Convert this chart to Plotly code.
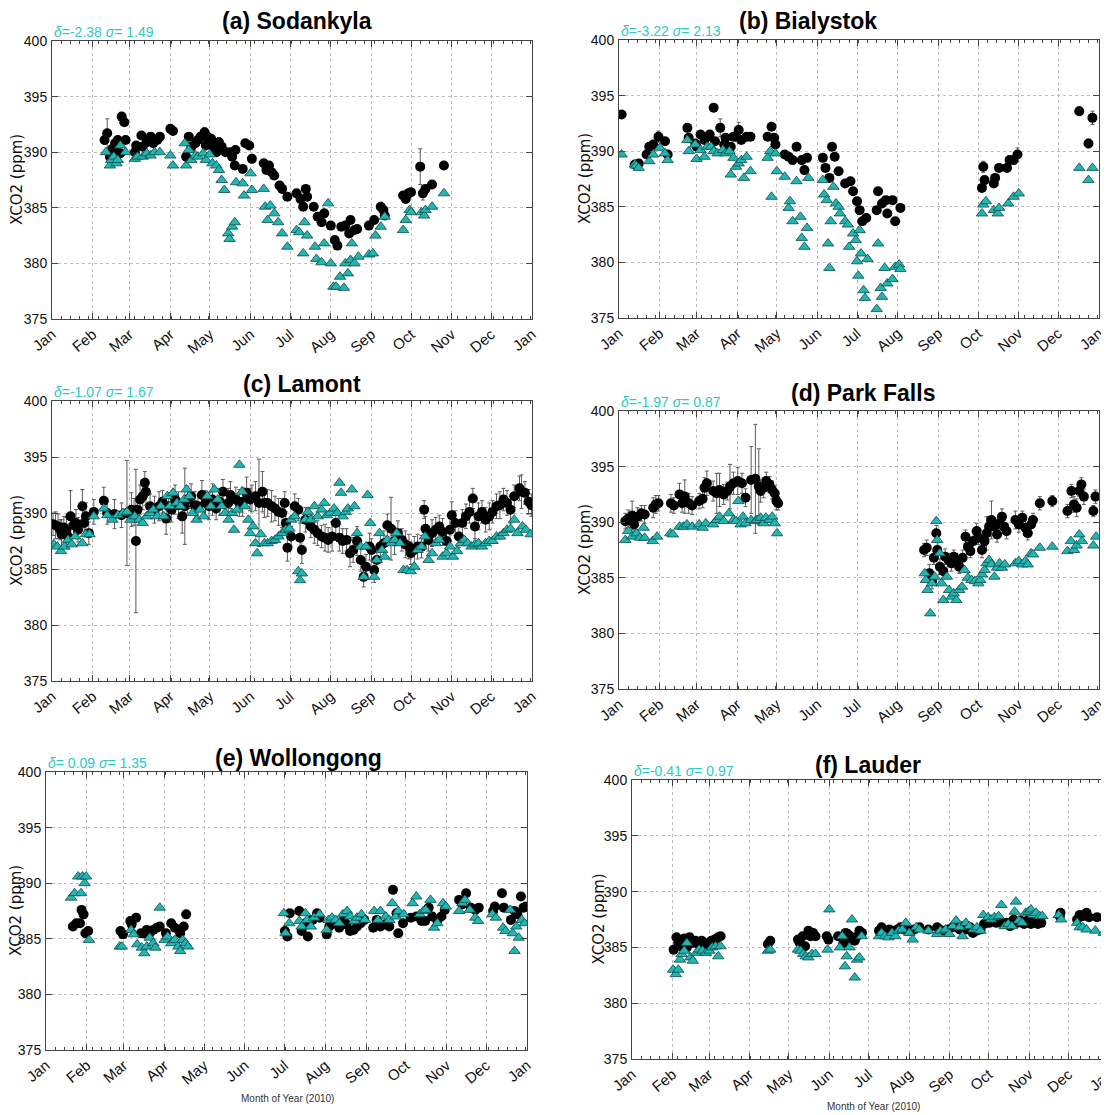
import pandas as pd
import plotly.graph_objects as go

# ---------------- DATA (day of year 2010, XCO2 ppm) ----------------
month_ticks = ["2010-01-01", "2010-02-01", "2010-03-01", "2010-04-01", "2010-05-01", "2010-06-01",
               "2010-07-01", "2010-08-01", "2010-09-01", "2010-10-01", "2010-11-01", "2010-12-01", "2011-01-01"]
month_labels = ["Jan", "Feb", "Mar", "Apr", "May", "Jun", "Jul", "Aug", "Sep", "Oct", "Nov", "Dec", "Jan"]
y_ticks = [375, 380, 385, 390, 395, 400]

# (a) Sodankyla
a_obs_day = [40, 42, 44, 46, 48, 49, 50, 52, 53, 55, 56, 63, 64, 68, 69, 72, 75, 77, 80, 82,
             90, 92, 102, 104, 106, 109, 111, 113, 116, 117, 118, 121, 123, 125, 127, 129, 132, 135, 137, 139,
             139.5, 145, 147, 150, 152, 161, 163, 165, 167, 169, 173, 175, 179, 186, 189, 191, 193, 194, 199, 202,
             205, 207, 212, 215, 217, 220, 223, 226, 227, 230, 232, 241, 245, 250, 252, 253, 267, 269, 271, 273,
             280, 282, 284, 289, 298]
a_obs_val = [391.1, 391.7, 389.6, 390.3, 390.8, 390.0, 391.1, 389.9, 393.2, 392.7, 391.1, 390.0, 390.6, 391.5, 390.5, 390.9, 391.4, 390.8, 391.1, 391.4,
             392.1, 391.9, 389.6, 391.4, 390.5, 390.8, 391.1, 391.4, 391.8, 390.6, 391.4, 391.2, 390.5, 390.0, 390.9, 390.5, 390.0, 390.0, 389.6, 388.8,
             390.2, 388.5, 390.8, 390.6, 389.4, 389.0, 388.4, 388.8, 388.2, 387.9, 387.0, 386.7, 386.0, 386.3, 385.8, 385.1, 386.7, 386.0, 385.1, 384.2,
             383.7, 384.5, 383.4, 382.1, 381.6, 383.3, 383.4, 382.7, 383.9, 383.0, 383.1, 383.4, 383.9, 385.1, 384.8, 384.3, 386.1, 385.8, 386.3, 386.4,
             388.7, 386.3, 386.7, 387.1, 388.8]
a_obs_err = [0.4, 1.3, 0.3, 0.3, 0.3, 0.3, 0.3, 0.3, 0.3, 0.3, 0.3, 0.3, 0.3, 0.3, 0.3, 0.3, 0.3, 0.3, 0.3, 0.3,
             0.3, 0.3, 0.3, 0.3, 0.3, 0.3, 0.3, 0.3, 0.4, 0.3, 0.3, 0.3, 0.3, 0.3, 0.4, 0.3, 0.3, 0.3, 0.3, 0.3,
             0.3, 0.3, 0.3, 0.3, 0.3, 0.3, 0.3, 0.3, 0.6, 0.3, 0.3, 0.3, 0.3, 0.3, 0.3, 0.3, 0.3, 0.3, 0.3, 0.3,
             0.3, 0.3, 0.3, 0.3, 0.3, 0.3, 0.3, 0.3, 0.3, 0.3, 0.3, 0.3, 0.3, 0.4, 0.3, 0.3, 0.3, 0.3, 0.3, 0.3,
             1.6, 0.6, 0.3, 0.3, 0.3]
a_mod_day = [41, 44, 45, 47, 49, 50, 52, 56, 63, 65, 69, 72, 75, 78, 82, 90, 92, 101, 102, 104,
             106, 109, 111, 115, 117, 120, 122, 125, 127, 129, 131, 134, 135, 137, 139, 140, 145, 146, 151, 152,
             161, 162, 164, 166, 169, 172, 175, 179, 186, 188, 191, 192, 194, 200, 201, 205, 207, 210, 212, 214,
             216, 219, 222, 223, 225, 227, 228, 230, 233, 241, 244, 246, 250, 253, 267, 269, 272, 273, 281, 283,
             284, 289, 298]
a_mod_val = [390.0, 388.8, 389.3, 389.6, 389.0, 389.3, 390.6, 390.0, 389.4, 389.6, 389.6, 389.9, 389.7, 390.0, 390.0, 389.7, 388.8, 390.8, 388.8, 390.2,
             389.3, 389.7, 389.6, 389.9, 389.3, 389.8, 389.0, 388.8, 388.4, 387.5, 386.6, 382.7, 382.2, 383.3, 383.7, 387.3, 387.2, 386.1, 388.1, 386.6,
             386.7, 385.1, 383.9, 385.2, 384.5, 383.7, 382.7, 381.5, 383.0, 382.8, 380.9, 383.7, 382.5, 381.5, 380.4, 380.1, 381.8, 385.4, 380.0, 377.9,
             377.9, 378.8, 377.8, 380.0, 379.1, 380.3, 381.8, 380.0, 380.6, 380.8, 380.9, 382.5, 383.3, 384.2, 383.0, 383.9, 384.8, 384.6, 384.6, 384.3,
             384.8, 385.1, 386.3]

# (b) Bialystok
b_obs_day = [2, 12, 15, 21, 23, 26, 30, 35, 37, 52, 53, 58, 59, 62, 65, 67, 69, 72, 73, 77,
             80, 81, 85, 87, 89, 91, 93, 97, 100, 113, 116, 118, 119, 126, 129, 132, 135, 139, 141, 143,
             155, 157, 160, 162, 164, 167, 172, 176, 178, 181, 183, 185, 188, 196, 197, 200, 203, 204, 208, 210,
             214, 276, 277, 278, 285, 286, 289, 295, 297, 300, 303, 350, 357, 360]
b_obs_val = [393.3, 388.8, 388.9, 389.7, 390.4, 390.6, 391.3, 390.9, 389.7, 392.1, 391.2, 390.7, 390.4, 391.5, 391.0, 391.3, 391.5, 393.9, 390.9, 392.1,
             390.6, 391.2, 390.4, 391.3, 391.3, 391.9, 391.0, 391.3, 391.3, 391.3, 392.2, 391.2, 390.6, 389.7, 389.5, 389.2, 390.4, 389.2, 388.3, 389.4,
             389.4, 388.5, 387.6, 390.4, 389.5, 388.2, 387.1, 387.3, 386.4, 385.5, 384.7, 383.7, 384.0, 384.7, 386.4, 385.3, 385.6, 384.4, 385.6, 383.7,
             384.9, 386.7, 388.6, 387.4, 387.1, 387.6, 388.5, 388.5, 389.2, 389.2, 389.7, 393.6, 390.7, 393.0]
b_obs_err = [0.3, 0.3, 0.3, 0.3, 0.3, 0.3, 0.5, 0.3, 0.3, 0.3, 0.3, 0.3, 0.3, 0.3, 0.3, 0.3, 0.3, 0.3, 0.3, 0.8,
             0.3, 0.3, 0.3, 0.3, 0.3, 0.7, 0.3, 0.3, 0.3, 0.3, 0.3, 0.3, 0.3, 0.3, 0.3, 0.3, 0.3, 0.3, 0.3, 0.3,
             0.3, 0.3, 0.3, 0.3, 0.3, 0.3, 0.3, 0.3, 0.3, 0.3, 0.3, 0.3, 0.3, 0.3, 0.3, 0.3, 0.3, 0.3, 0.3, 0.3,
             0.3, 0.3, 0.5, 0.3, 0.3, 0.3, 0.3, 0.3, 0.3, 0.3, 0.6, 0.4, 0.4, 0.6]
b_mod_day = [2, 12, 13, 15, 23, 26, 31, 35, 37, 52, 53, 58, 59, 62, 65, 67, 70, 72, 75, 79,
             81, 84, 85, 87, 89, 91, 93, 95, 97, 100, 113, 115, 116, 119, 120, 126, 129, 130, 132, 135,
             138, 139, 141, 143, 144, 155, 156, 158, 159, 160, 161, 163, 165, 167, 168, 172, 174, 175, 178, 180,
             181, 182, 183, 184, 186, 187, 189, 196, 197, 199, 200, 202, 204, 208, 210, 213, 214, 276, 277, 279,
             285, 288, 289, 296, 300, 304, 350, 357, 360]
b_mod_val = [389.7, 388.8, 388.7, 388.5, 389.1, 389.7, 390.3, 389.8, 389.2, 391.0, 390.0, 390.6, 389.3, 390.1, 389.5, 390.4, 390.4, 390.0, 389.8, 390.1,
             389.8, 390.0, 387.9, 389.4, 388.6, 388.9, 389.2, 387.6, 389.5, 388.2, 389.4, 390.0, 385.9, 389.8, 388.2, 387.7, 384.9, 385.5, 383.7, 387.3,
             384.1, 382.2, 381.4, 383.1, 387.6, 387.4, 386.1, 385.6, 381.7, 379.5, 383.7, 386.8, 385.3, 385.0, 384.4, 383.7, 383.4, 381.4, 382.6, 382.0,
             380.1, 378.8, 382.9, 380.8, 377.5, 376.8, 380.3, 375.8, 381.7, 377.7, 376.9, 379.5, 378.1, 378.5, 379.6, 379.8, 379.4, 384.4, 385.2, 385.5,
             384.7, 384.4, 384.9, 385.3, 385.9, 386.2, 388.5, 387.4, 388.5]

# (c) Lamont
c_obs_day = [0.8, 2.7, 4.6, 6.2, 7.3, 9, 10.9, 12.2, 14.1, 16.3, 18.2, 19.8, 23.1, 24.4, 25.8, 28, 31.8,
             39.4, 42, 47.5, 52.9, 57, 60.5, 62.4, 63.8, 65, 67, 69, 70.6, 71.4,
             74.6, 77.9, 81.4, 84, 86.8, 88.7, 90.9, 93.6, 96.3, 99, 101, 103, 105.8,
             108.6, 111, 114, 116.7, 119.4, 122, 124.8, 127.6, 130, 134, 135.7,
             139.8, 142.5, 145, 148, 150.6, 152, 154.7, 157.4, 160, 161.5, 164, 167, 169.6, 172.3, 175, 177,
             177.8, 179, 181.8, 184.6, 187.3, 188.6, 190, 192.7, 196.8, 199.5, 202, 205, 207.6, 210, 213, 215.8, 218.5, 221, 224, 226.6,
             229, 232, 234.8, 237, 238.8, 241.5, 243, 245, 247, 249.7, 252.4, 255, 257.8, 260.5, 263, 266, 268.7, 271.4, 272.8, 275.5,
             278, 281, 283, 284, 286.3, 289, 291.8, 294.5, 297, 300, 302.6, 304, 306.7, 309.4, 312, 314.8, 317.5, 320, 321.6, 324.3,
             327, 329.7, 332.5, 335, 338, 340.6, 343.3, 346, 348.7, 351.5, 355.5, 357, 359.6, 362.4, 364.5]
c_obs_val = [389.0, 388.9, 388.8, 388.5, 388.1, 388.7, 388.4, 387.9, 389.7, 388.9, 389.1, 388.5, 390.6, 389.1, 389.7, 388.2, 390.1,
             391.1, 390.0, 389.9, 389.8, 390.0, 390.3, 390.1, 387.5, 390.3, 391.2, 391.5, 392.7, 391.9,
             390.6, 390.3, 390.6, 391.0, 389.5, 390.6, 390.3, 391.2, 390.7, 389.7, 390.6, 391.2, 391.5,
             390.7, 390.6, 391.6, 390.9, 390.6, 391.2, 390.4, 391.0, 391.9, 390.9, 391.6,
             391.2, 390.9, 391.0, 391.8, 391.2, 391.3, 391.5, 390.9, 391.9, 390.9, 390.9, 390.6, 390.4, 390.1, 390.0, 390.9,
             389.1, 386.9, 387.9, 390.6, 390.3, 387.8, 386.7, 389.4, 388.8, 388.5, 388.2, 387.9, 387.8, 387.6, 387.9, 389.1, 387.8, 387.5, 387.6, 386.4,
             386.7, 387.5, 385.8, 384.3, 385.2, 387.0, 386.7, 384.9, 385.8, 387.0, 387.3, 388.9, 388.6, 387.5, 388.2, 387.6, 387.2, 387.0, 386.4, 386.7,
             387.0, 387.0, 390.3, 388.6, 387.6, 388.2, 388.5, 388.8, 388.3, 387.5, 388.5, 389.8, 389.1, 387.9, 389.1, 389.7, 390.1, 391.3, 388.8, 389.7,
             390.1, 389.4, 389.7, 390.1, 390.6, 390.7, 391.2, 390.9, 390.3, 391.5, 392.2, 391.9, 391.8, 391.0, 390.7]
c_obs_err = [1.0, 1.2, 1.1, 0.9, 1.3, 1.0, 1.2, 1.1, 2.3, 1.0, 1.2, 1.1, 1.5, 1.0, 1.2, 1.0, 1.1,
             1.2, 1.0, 1.3, 1.1, 4.7, 1.5, 1.2, 6.4, 1.1, 1.3, 1.2, 1.0, 1.2,
             1.1, 1.2, 1.3, 1.0, 1.4, 1.2, 1.1, 1.3, 1.2, 1.5, 3.4, 1.2, 1.1,
             1.2, 1.0, 1.3, 1.1, 1.2, 1.4, 1.0, 1.2, 1.1, 1.3, 1.2,
             1.1, 1.2, 1.3, 1.4, 1.0, 1.2, 1.3, 3.9, 1.8, 1.3, 1.2, 1.4, 1.1, 1.2, 1.3, 1.0,
             1.0, 1.2, 0.9, 1.1, 1.0, 1.3, 1.2, 1.1, 1.0, 1.2, 1.1, 1.0, 1.2, 1.1, 1.3, 1.0, 1.2, 1.1, 1.0, 1.2,
             1.1, 1.3, 1.0, 0.9, 1.1, 1.2, 1.0, 1.1, 1.0, 1.2, 1.1, 1.0, 2.8, 1.2, 1.1, 1.0, 1.2, 1.1, 1.0, 1.2,
             1.1, 1.0, 0.8, 1.1, 1.0, 1.2, 1.1, 1.0, 1.2, 1.1, 1.0, 1.2, 1.1, 1.0, 1.2, 1.1, 1.0, 0.9, 1.1, 1.2,
             1.0, 1.1, 1.2, 1.0, 1.1, 1.2, 1.0, 1.1, 1.2, 1.0, 1.1, 1.5, 1.0, 1.1, 1.0]
c_mod_day = [1.4, 4, 6.8, 9.5, 12.2, 15, 17.6, 23, 25.8, 28.5, 31.8,
             39.4, 42, 46, 50, 54, 57, 59.7, 63, 66.5, 69, 72, 74.6, 77, 80, 82.8, 85, 87.7, 89.6, 92, 95,
             97.7, 100.4, 102.3, 104.5, 107, 110, 112.6, 115.3, 118, 120.8, 123.5, 126, 129, 131.6, 134.3, 137, 138.4, 141, 142.5, 144.6,
             146.6, 149.3, 150.6, 152.8, 154.7, 156, 158.8, 161.5, 164, 167, 169.6, 172.3, 175, 177.8, 180.5, 181.8, 184.6, 187.3, 188.6, 190,
             192.7, 194.6, 196.8, 199.5, 202, 205, 207, 209, 211.7, 214.4, 217, 218.5, 219.8, 221, 223.4, 225, 228, 230, 232, 234.8,
             237, 238.8, 240, 242, 245, 247, 249, 251, 253, 255, 257.8, 260.5, 262, 264.6, 267.3, 270, 272.8, 275.5, 278, 281,
             283.6, 286.3, 289, 291.8, 294.5, 297, 300, 302.6, 305, 308, 310.8, 313.5, 316, 319, 321.6, 324.3, 327, 329.7, 332.5, 335,
             338, 340.6, 343.3, 346, 348.7, 351.5, 354, 357.7, 360.4, 364]
c_mod_val = [387.2, 387.0, 386.6, 387.0, 387.6, 387.2, 387.9, 387.3, 388.1, 388.1, 389.7,
             390.4, 389.8, 389.4, 389.8, 390.0, 390.1, 389.4, 389.7, 389.4, 389.1, 389.7, 390.0, 390.3, 389.7, 390.6, 389.7, 391.5, 390.6, 391.8, 390.9,
             390.6, 391.2, 392.1, 391.5, 390.0, 389.4, 390.3, 389.7, 391.5, 390.6, 392.1, 391.2, 390.6, 390.0, 389.4, 390.0, 388.5, 390.3, 394.3, 391.9,
             390.6, 389.4, 388.2, 388.8, 387.3, 386.4, 388.1, 387.3, 387.3, 387.5, 387.6, 387.9, 388.2, 388.5, 388.6, 389.4, 389.7, 384.8, 384.0, 384.6,
             389.4, 390.1, 389.4, 390.6, 389.7, 390.3, 390.9, 389.8, 390.0, 390.4, 390.0, 392.7, 391.8, 389.7, 390.1, 390.4, 392.1, 390.6, 388.2, 387.0,
             384.3, 387.0, 391.6, 389.1, 384.3, 385.8, 388.2, 386.7, 386.1, 387.6, 387.3, 387.6, 388.2, 387.3, 384.9, 384.9, 384.8, 385.2, 386.7, 387.0,
             387.9, 385.8, 386.4, 387.3, 387.6, 386.1, 386.4, 387.0, 386.1, 386.6, 387.3, 387.6, 387.3, 387.0, 387.2, 387.3, 387.0, 387.3, 387.5, 387.5,
             387.9, 387.9, 388.2, 388.5, 388.6, 389.4, 388.2, 388.8, 388.5, 388.1]

# (d) Park Falls
d_obs_day = [4.8, 7, 10, 11.5, 14, 17, 19.5, 26, 28, 30, 39.5, 41.7, 46, 48, 50, 53, 55.6, 61, 63.6, 65,
             66.8, 71.6, 74.3, 76.4, 79.6, 82.3, 84.4, 87, 90.3, 93.5, 96.2, 100.5, 103.7, 106.3, 107.7, 110, 112, 114.4, 116.5, 118.4,
             119.7, 121,
             232, 234, 236, 238, 239.4, 241.3, 242, 244, 246.6, 248, 250.6, 252.8, 254.6, 256.5, 258.7, 261.3, 263.5, 265.3, 267.2, 269.3,
             272, 273.3, 276, 278, 279.5, 281.4, 283.2, 285.4, 287.5, 289.4, 291.2, 292.9, 294.7, 301.4, 304, 306.7, 309, 310.8, 313.4, 314.8,
             320, 329.5, 341, 344, 346, 348, 350, 351.6, 353.5, 360.7, 362.3]
d_obs_val = [390.1, 390.3, 390.6, 389.8, 390.5, 390.8, 390.7, 391.3, 391.6, 391.7, 391.7, 391.5, 392.5, 391.7, 392.3, 391.7, 391.5, 391.9, 392.1, 393.1,
             393.5, 392.8, 392.6, 392.9, 392.5, 392.8, 393.2, 393.5, 393.7, 393.5, 392.2, 393.8, 393.9, 393.2, 392.8, 393.1, 393.7, 393.4, 392.9, 392.6,
             391.9, 391.7,
             387.5, 387.7, 385.4, 384.7, 386.8, 389.0, 387.5, 386.0, 385.6, 386.9, 386.6, 386.3, 386.9, 386.5, 386.0, 386.8, 388.7, 387.8, 387.4, 388.3,
             389.2, 388.6, 387.5, 388.3, 389.0, 389.6, 390.2, 389.6, 388.9, 389.9, 390.5, 389.6, 389.2, 390.2, 389.8, 390.4, 389.5, 389.0, 389.8, 390.2,
             391.7, 391.9, 391.0, 392.8, 391.6, 391.3, 392.8, 393.4, 392.3, 391.0, 392.3]
d_obs_err = [0.7, 0.8, 1.3, 0.7, 0.8, 0.7, 0.8, 0.9, 0.8, 0.7, 0.8, 0.7, 1.0, 0.8, 1.5, 0.9, 0.8, 0.7, 0.8, 0.9,
             1.1, 0.9, 1.8, 1.5, 0.9, 0.8, 2.0, 1.0, 1.2, 0.9, 0.8, 3.0, 4.9, 3.4, 1.0, 0.9, 0.8, 0.7, 0.8, 0.7,
             0.8, 0.6,
             0.6, 0.7, 0.8, 0.7, 0.6, 0.7, 0.8, 0.7, 0.6, 0.7, 0.6, 0.7, 0.6, 0.7, 0.6, 0.7, 0.6, 0.7, 0.6, 0.8,
             0.7, 0.6, 0.7, 0.8, 1.5, 0.9, 1.7, 0.8, 0.7, 0.6, 0.7, 0.6, 0.7, 0.8, 0.7, 0.6, 0.7, 0.6, 0.7, 0.6,
             0.6, 0.5, 0.6, 0.6, 0.7, 0.8, 0.5, 0.6, 0.7, 0.5, 0.6]
d_mod_day = [4.8, 7, 10, 13.4, 16, 18.7, 19.5, 25.6, 28.9, 39, 41, 46, 49, 51.6, 55.6, 61, 63.6, 66, 71.6, 74.3,
             76.4, 79.6, 83.6, 87, 89, 90.8, 92.5, 94.3, 96.2, 100.5, 103.7, 105, 107.7, 110, 111.7, 114.4, 116.5, 118.4, 120.2,
             232.5, 233.3, 234.6, 236.7, 238, 240, 241.3, 242, 244, 245.3, 246.6, 249.3, 251, 252.8, 254.6, 256.5, 258.7, 260.8, 262.7, 265.3,
             268, 270.7, 273.3, 274.7, 276, 278, 279.5, 281.4, 283.2, 285.4, 287.5, 289.4, 291.2, 293.4, 301.4, 304, 306.7, 309, 310.8, 313.4,
             314.8, 320, 329.5, 341, 343.6, 346, 348, 350, 352, 360.7, 362.8]
d_mod_val = [388.4, 389.2, 388.7, 389.0, 388.6, 389.5, 388.6, 388.3, 388.7, 389.0, 388.9, 389.6, 389.6, 389.8, 389.6, 389.8, 389.5, 389.9, 389.8, 390.2,
             390.5, 390.1, 390.8, 390.2, 390.1, 391.9, 389.8, 390.5, 389.9, 390.2, 390.1, 390.2, 390.4, 389.9, 390.4, 390.2, 390.5, 389.9, 389.0,
             385.4, 384.8, 383.9, 381.8, 384.5, 385.1, 390.1, 388.4, 387.2, 384.5, 383.0, 385.1, 383.9, 383.3, 383.6, 383.0, 383.9, 384.2, 385.7, 385.0,
             384.8, 384.7, 384.5, 384.8, 385.3, 385.7, 386.3, 386.6, 386.2, 385.1, 385.9, 386.3, 385.9, 386.2, 386.3, 386.5, 386.2, 386.5, 386.2, 387.2,
             387.1, 387.7, 387.8, 387.4, 388.3, 387.5, 387.9, 388.9, 388.3, 387.9, 388.7]

# (e) Wollongong
e_obs_day = [20.4, 23, 25.8, 27, 28.5, 29.9, 32,
             56.5, 58.4, 64, 65, 68.4, 72, 74.6, 76.5, 78.7, 81.4, 84, 86.3, 91, 95, 97.7, 101.8, 104.5, 106.4,
             181.3, 183.2, 185, 192.2, 194, 196.8, 198.7, 202.2, 205.7, 207.6, 213, 215, 218.5, 222.5, 225.8, 228, 230.7, 233.4, 236, 238.8,
             241.5, 248.3, 251, 253.8, 257.8, 260.5, 263.3, 266, 267.3, 270.9, 276.8, 281, 285, 287.7, 290.4, 293.1, 297, 300, 302.6, 313.5,
             316, 318.8, 322.4, 325.7, 328.4, 339.3, 340.6, 346, 347.4, 352.8, 355.5, 357.7, 360.4, 362.3, 364.2]
e_obs_val = [386.1, 386.4, 386.4, 387.6, 387.2, 385.5, 385.7,
             385.7, 385.4, 386.6, 386.3, 386.9, 385.5, 385.5, 385.8, 385.5, 385.8, 386.0, 386.1, 385.5, 386.4, 386.0, 385.5, 386.1, 387.2,
             385.7, 385.2, 387.3, 387.5, 385.7, 386.4, 385.2, 386.7, 387.3, 386.9, 385.4, 386.1, 386.4, 386.0, 386.7, 386.3, 385.7, 385.8, 386.1, 386.4,
             386.7, 386.0, 386.7, 386.1, 386.3, 386.1, 389.4, 387.3, 385.5, 386.4, 386.9, 387.0, 386.6, 386.6, 387.8, 387.0, 386.6, 387.0, 387.6, 388.5,
             388.1, 389.1, 387.8, 387.6, 387.8, 387.5, 387.9, 389.1, 387.8, 386.7, 387.5, 387.2, 388.8, 387.8, 387.9]
e_mod_day = [19, 21.7, 24.4, 26.6, 27.7, 29.3, 30.4, 32.6,
             55.9, 57.5, 64.6, 66.5, 69.2, 72.7, 74.6, 76.5, 78.7, 81.4, 83, 86.3, 90, 92.3, 95, 97.7, 100.4, 101.8, 103.7, 105.8, 107.7,
             180.5, 181.8, 184.6, 192.2, 194, 196.8, 198.1, 201, 203.5, 207.6, 213, 214.4, 217, 219.8, 222.5, 225.3, 228.5, 230.7, 234, 236,
             239.4, 242, 249, 251.9, 253.8, 257.8, 260.5, 262.7, 265.4, 267.3, 271.4, 278.2, 281, 283.6, 286.3, 288.2, 291.8, 294.5, 297, 301.3,
             303.4, 313.5, 316, 317.9, 321.6, 325.7, 327.9, 338.7, 341.4, 346.9, 348.7, 352.3, 354.2, 355.5, 356.9, 358.8, 361, 363.2]
e_mod_val = [388.7, 389.1, 390.6, 389.1, 390.6, 390.0, 390.6, 384.9,
             384.3, 384.3, 385.8, 385.4, 384.5, 384.2, 383.7, 384.3, 385.1, 384.6, 384.2, 387.8, 384.9, 385.2, 384.6, 384.9, 384.3, 383.9, 384.9, 384.6, 384.3,
             387.3, 385.5, 386.4, 386.6, 386.1, 387.3, 386.7, 386.1, 386.9, 387.2, 385.8, 386.7, 386.9, 386.7, 386.4, 387.2, 387.5, 387.0, 386.6, 386.9,
             387.2, 386.7, 387.5, 386.7, 387.5, 387.0, 386.7, 388.2, 387.0, 387.5, 387.2, 388.2, 388.8, 387.2, 387.5, 387.6, 388.5, 386.0, 386.4, 388.2,
             387.9, 387.5, 388.2, 388.5, 387.6, 386.9, 386.6, 387.2, 386.9, 386.0, 385.7, 387.6, 385.5, 383.9, 386.1, 385.1, 386.7, 386.4]

# (f) Lauder
f_obs_day = [31.9, 34, 35.4, 36.7, 38, 40, 42, 44, 46, 48.7, 50.8, 53.4, 55.3, 58, 60.6, 63.3, 65.9, 67.8,
             104, 105.8,
             127, 128.4, 130.6, 132.4, 135, 136.6, 138.5, 140.4, 149, 150.3, 157.7, 161.7, 163.5, 165, 167, 168.3, 170.4, 171.5, 174, 176,
             189, 191, 192.2, 195, 197, 199, 200.8, 203, 205.5, 208, 211, 213.5, 216, 220, 226.8, 233.5, 235.3, 238.8, 242, 245.4,
             248, 250.7, 253.4, 256, 258.7, 260.8, 263.5, 266.7, 269.4, 273.3, 276, 278.7, 281.3, 284, 286.6, 289.3, 292, 294.6, 297.3, 300,
             302.6, 305.3, 308, 310.6, 313.2, 327.3, 327.9, 340.6, 342.5, 345, 347.8, 349.7, 355.8, 361]
f_obs_val = [384.8, 385.9, 385.4, 385.1, 385.4, 385.8, 385.0, 385.9, 385.4, 385.6, 385.3, 385.6, 385.4, 385.1, 385.6, 385.7, 385.9, 386.0,
             385.3, 385.6,
             385.7, 385.4, 386.0, 385.1, 386.5, 386.0, 386.3, 386.0, 386.0, 385.7, 386.0, 385.4, 386.3, 386.2, 386.0, 385.7, 385.6, 385.9, 386.5, 386.3,
             386.5, 386.8, 386.5, 386.3, 386.6, 386.2, 386.5, 386.6, 386.8, 386.6, 386.5, 386.5, 386.6, 386.8, 386.6, 386.8, 386.6, 386.5, 386.6, 386.8,
             387.1, 386.6, 386.9, 386.6, 386.8, 386.3, 386.5, 386.6, 387.1, 387.2, 387.4, 387.2, 387.4, 387.1, 387.2, 386.9, 387.5, 387.2, 387.4, 387.1,
             387.4, 387.1, 387.4, 387.1, 387.2, 387.8, 388.1, 387.5, 387.9, 387.8, 388.1, 387.7, 387.7, 387.7]
f_mod_day = [31.4, 33.5, 35.4, 36.7, 38, 40, 42, 44.7, 46.5, 49.2, 51.3, 54, 56.6, 59.3, 61.4, 64, 66, 67.8,
             104, 105.8,
             127, 129, 131, 133, 135, 137.7, 140.4, 149.7, 151, 159, 160.9, 163, 164.3, 166.5, 168.3, 170.4, 172.3, 174, 175.8,
             189, 191, 193.6, 196.2, 199, 201.5, 204, 206.9, 209.5, 212.2, 214.8, 217.5, 220, 226.8, 233.5, 236, 240, 242.8, 245.4, 248,
             250.7, 252.9, 255.5, 258.2, 261.4, 264, 266.7, 268.8, 272.5, 274.7, 277.3, 280.5, 282.6, 285.3, 288, 290.7, 292.8, 293.8, 296, 298.6,
             301.3, 303.4, 305.3, 307, 309.2, 312, 314, 326.5, 328.4, 340.6, 342.5, 345, 347.8, 354.5, 361]
f_mod_val = [383.0, 382.6, 383.0, 383.9, 384.4, 384.7, 385.4, 384.1, 383.8, 384.5, 384.8, 384.7, 384.5, 384.7, 385.0, 385.1, 384.2, 385.1,
             384.7, 384.8,
             384.8, 384.7, 384.4, 384.2, 384.1, 384.4, 384.4, 384.8, 388.4, 385.0, 386.0, 383.3, 384.2, 385.0, 387.5, 382.3, 383.9, 384.1, 386.0,
             386.0, 386.3, 386.0, 385.9, 386.3, 386.0, 386.5, 386.6, 387.2, 386.3, 385.7, 386.8, 386.6, 386.5, 386.2, 386.5, 386.6, 386.2, 386.9, 387.4,
             386.8, 386.0, 387.2, 386.9, 386.6, 386.8, 386.5, 387.9, 387.7, 387.5, 387.7, 387.8, 388.8, 386.9, 387.1, 386.9, 388.2, 389.1, 387.4, 387.2,
             388.1, 388.2, 388.4, 387.9, 388.1, 387.8, 387.8, 387.9, 387.5, 387.2, 386.8, 386.8, 386.6, 386.5, 386.3]

titles = ["(a) Sodankyla", "(b) Bialystok", "(c) Lamont", "(d) Park Falls", "(e) Wollongong", "(f) Lauder"]
stats = [("-2.38", "1.49"), ("-3.22", "2.13"), ("-1.07", "1.67"), ("-1.97", "0.87"), (" 0.09", "1.35"), ("-0.41", "0.97")]

# ---------------- LAYOUT (pixel geometry, screenshot coordinates) ----------------
OFF = 8                      # page body margin offset
W, H = 1109 - OFF, 1115 - OFF
# (left, right, top, bottom) of each plot area in screenshot pixels
boxes = [(52, 532, 41, 319), (619, 1099, 40, 318), (52, 532, 401, 681),
         (619, 1099, 411, 689), (46, 527, 772, 1050), (632, 1110, 780, 1059)]
title_pos = [(297, 21), (808, 21), (302, 384), (863, 393), (298, 758), (868, 765)]
ytitle_x = [17, 585, 17, 585, 16, 598]


def px(x):
    return (x - OFF) / W


def py(y):
    return 1 - (y - OFF) / H


BASE = pd.Timestamp("2010-01-01")


def to_dates(days):
    return [BASE + pd.Timedelta(days=float(d)) for d in days]


series = [
    (a_obs_day, a_obs_val, a_obs_err, a_mod_day, a_mod_val),
    (b_obs_day, b_obs_val, b_obs_err, b_mod_day, b_mod_val),
    (c_obs_day, c_obs_val, c_obs_err, c_mod_day, c_mod_val),
    (d_obs_day, d_obs_val, d_obs_err, d_mod_day, d_mod_val),
    (e_obs_day, e_obs_val, None, e_mod_day, e_mod_val),
    (f_obs_day, f_obs_val, None, f_mod_day, f_mod_val),
]

NARROW = "Liberation Sans Narrow, Liberation Sans, Arial, sans-serif"
TICKFONT = dict(family=NARROW, size=14, color="#111")
XTICKFONT = dict(family=NARROW, size=15, color="#111")
AXCOL = "#444444"
TEAL = "#22b5b1"

fig = go.Figure()
layout = dict(width=W, height=H, margin=dict(l=0, r=0, t=0, b=0, autoexpand=False), showlegend=False,
              paper_bgcolor="white", plot_bgcolor="white")
annotations = []

for i, (od, ov, oe, md, mv) in enumerate(series):
    n = i + 1
    xa = "x" if n == 1 else f"x{n}"
    ya = "y" if n == 1 else f"y{n}"
    l, r, t, b = boxes[i]
    err = None
    if oe is not None:
        err = dict(type="data", array=oe, visible=True, color="#5a5a5a", thickness=1, width=2)
    fig.add_trace(go.Scatter(x=to_dates(od), y=ov, mode="markers", xaxis=xa, yaxis=ya,
                             marker=dict(symbol="circle", size=10, color="black",
                                         line=dict(color="black", width=0)),
                             error_y=err, cliponaxis=True))
    fig.add_trace(go.Scatter(x=to_dates(md), y=mv, mode="markers", xaxis=xa, yaxis=ya,
                             marker=dict(symbol="triangle-up", size=10, color=TEAL,
                                         line=dict(color="#0d4d4a", width=0.8)),
                             cliponaxis=True))
    xkey = "xaxis" if n == 1 else f"xaxis{n}"
    ykey = "yaxis" if n == 1 else f"yaxis{n}"
    layout[xkey] = dict(domain=[max(px(l), 0), min(px(r), 1.0)], anchor=ya, automargin=False,
                        type="date", range=["2010-01-01", "2011-01-01"],
                        tickmode="array", tickvals=month_ticks, ticktext=month_labels,
                        tickangle=-40, tickfont=XTICKFONT, ticklabeloverflow="allow",
                        ticks="inside", ticklen=6, tickcolor=AXCOL,
                        showline=True, linecolor=AXCOL, linewidth=1, mirror="ticks",
                        showgrid=True, gridcolor="#bdbdbd", griddash="dot", gridwidth=1,
                        zeroline=False, fixedrange=True,
                        minor=dict(ticks="inside", ticklen=3, tickcolor=AXCOL,
                                   dtick=7 * 86400000, tick0="2010-01-01", showgrid=False))
    layout[ykey] = dict(domain=[py(b), py(t)], anchor=xa, automargin=False,
                        range=[375, 400], tickmode="array", tickvals=y_ticks,
                        ticktext=[str(v) for v in y_ticks], tickfont=TICKFONT,
                        ticks="inside", ticklen=6, tickcolor=AXCOL,
                        showline=True, linecolor=AXCOL, linewidth=1, mirror="ticks",
                        showgrid=True, gridcolor="#bdbdbd", griddash="dot", gridwidth=1,
                        zeroline=False, ticklabelstandoff=1)
    # panel title
    tx, ty = title_pos[i]
    annotations.append(dict(x=px(tx), y=py(ty), xref="paper", yref="paper", showarrow=False,
                            text=f"<b>{titles[i]}</b>", xanchor="center", yanchor="middle",
                            font=dict(family="Liberation Sans, Arial, sans-serif", size=23, color="black")))
    # stats text
    dlt, sg = stats[i]
    annotations.append(dict(x=px(l + 1), y=py(t), xref="paper", yref="paper", showarrow=False,
                            text=f"<i>δ</i>={dlt} <i>σ</i>= {sg}", xanchor="left", yanchor="bottom",
                            borderpad=0,
                            font=dict(family=NARROW, size=14, color="#2ec8c8")))
    # y axis title
    annotations.append(dict(x=px(ytitle_x[i]), y=py((t + b) / 2), xref="paper", yref="paper",
                            showarrow=False, text="XCO2 (ppm)", textangle=-90,
                            xanchor="center", yanchor="middle",
                            font=dict(family="DejaVu Sans, sans-serif", size=15, color="#111")))

for (xc, yc) in [(287, 1098), (873, 1106)]:
    annotations.append(dict(x=px(xc), y=py(yc), xref="paper", yref="paper", showarrow=False,
                            text="Month of Year (2010)", xanchor="center", yanchor="middle",
                            font=dict(family=NARROW, size=10, color="#333")))

layout["annotations"] = annotations
fig.update_layout(**layout)
fig.write_html("out.html")
